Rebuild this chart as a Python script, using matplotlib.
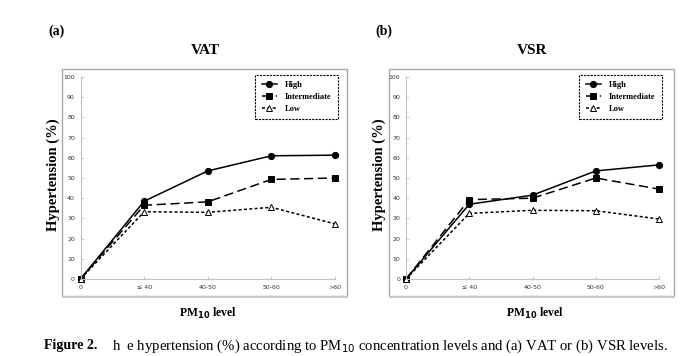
import matplotlib
matplotlib.use("Agg")
import matplotlib.pyplot as plt
from matplotlib.patches import Rectangle

levels = ["0", "\u2264 40", "40-50", "50-60", ">60"]
groups = ["High", "Intermediate", "Low"]

vat_high = [0, 38.5, 53.5, 61.0, 61.3]
vat_mid = [0, 36.5, 38.2, 49.3, 50.0]
vat_low = [0, 33.3, 33.0, 35.5, 27.3]

vsr_high = [0, 37.0, 41.5, 53.5, 56.5]
vsr_mid = [0, 39.3, 40.0, 50.0, 44.5]
vsr_low = [0, 32.5, 34.0, 33.8, 29.7]

plt.rcParams['font.family'] = ['Liberation Serif', 'DejaVu Serif']

fig = plt.figure(figsize=(6.8, 3.56), dpi=100)
W, H = 680.0, 356.0

styles = [
    dict(ls='-', marker='o', mfc='black', mec='black'),
    dict(ls=(0, (6, 3)), marker='s', mfc='black', mec='black'),
    dict(ls=(0, (2, 1.5)), marker='^', mfc='white', mec='black'),
]

def panel(x0, ax_left, ax_right, tag, title, series):
    # outer grey frame with a little shadow
    fig.patches.append(Rectangle((x0 / W, 1 - 296 / H), 285 / W, 227 / H,
                                 transform=fig.transFigure, fill=False,
                                 ec='#a8a8a8', lw=1.0))
    fig.patches.append(Rectangle((x0 / W, 1 - 297.5 / H), 286 / W, 1.5 / H,
                                 transform=fig.transFigure, fc='#c8c8c8',
                                 ec='none'))
    ax = fig.add_axes([ax_left / W, 1 - 279 / H, (ax_right - ax_left) / W, 202 / H])
    x = range(len(levels))
    for vals, name, st in zip(series, groups, styles):
        ax.plot(x, vals, color='black', lw=1.1, ms=4.5, mew=0.7,
                label=name, clip_on=False, **st)
    ax.set_xlim(0, 4)
    ax.set_ylim(0, 100)
    ax.set_xticks(list(x))
    ax.set_xticklabels(levels)
    ax.set_yticks(range(0, 101, 10))
    for s in ['top', 'right']:
        ax.spines[s].set_visible(False)
    for s in ['left', 'bottom']:
        ax.spines[s].set_color('#c0c0c0')
        ax.spines[s].set_linewidth(0.8)
    ax.tick_params(axis='both', labelsize=4.5, colors='#c0c0c0',
                   labelcolor='#333333', length=2, width=0.6, pad=4,
                   direction='in')
    for lab in ax.get_xticklabels() + ax.get_yticklabels():
        lab.set_family(['DejaVu Sans'])
    leg = ax.legend(loc='upper right', bbox_to_anchor=(1.01, 1.012),
                    fancybox=False, edgecolor='black', framealpha=1,
                    prop=dict(family='Liberation Serif', weight='bold', size=6),
                    handlelength=1.8, borderpad=0.8, labelspacing=0.45,
                    handletextpad=0.9, borderaxespad=0)
    leg.get_frame().set_linestyle((0, (2, 1)))
    leg.get_frame().set_linewidth(0.8)
    fig.text((x0 - 14) / W, 1 - 31 / H, tag, fontsize=10, fontweight='bold',
             ha='left', va='center')
    fig.text((x0 + 143) / W, 1 - 50 / H, title, fontsize=11, fontweight='bold',
             ha='center', va='center')
    fig.text((ax_left - 27) / W, 1 - 175 / H, "Hypertension (%)", fontsize=10.5,
             fontweight='bold', rotation=90, ha='center', va='center')
    fig.text((x0 + 146) / W, 1 - 313 / H, r"PM$_{\mathbf{10}}$ level",
             fontsize=8.5, fontweight='bold', ha='center', va='center')
    return ax

panel(62, 80.5, 335, "(a)", "VAT", [vat_high, vat_mid, vat_low])
panel(389, 406, 659, "(b)", "VSR", [vsr_high, vsr_mid, vsr_low])

fig.text(44 / W, 1 - 346 / H, "Figure 2.", fontsize=10, fontweight='bold',
         ha='left', va='center')
fig.text(112 / W, 1 - 346 / H,
         r"h  e hypertension (%) according to PM$_{10}$ concentration levels and (a) VAT or (b) VSR levels.",
         fontsize=10.6, ha='left', va='center')

fig.savefig("out.png", dpi=100)
